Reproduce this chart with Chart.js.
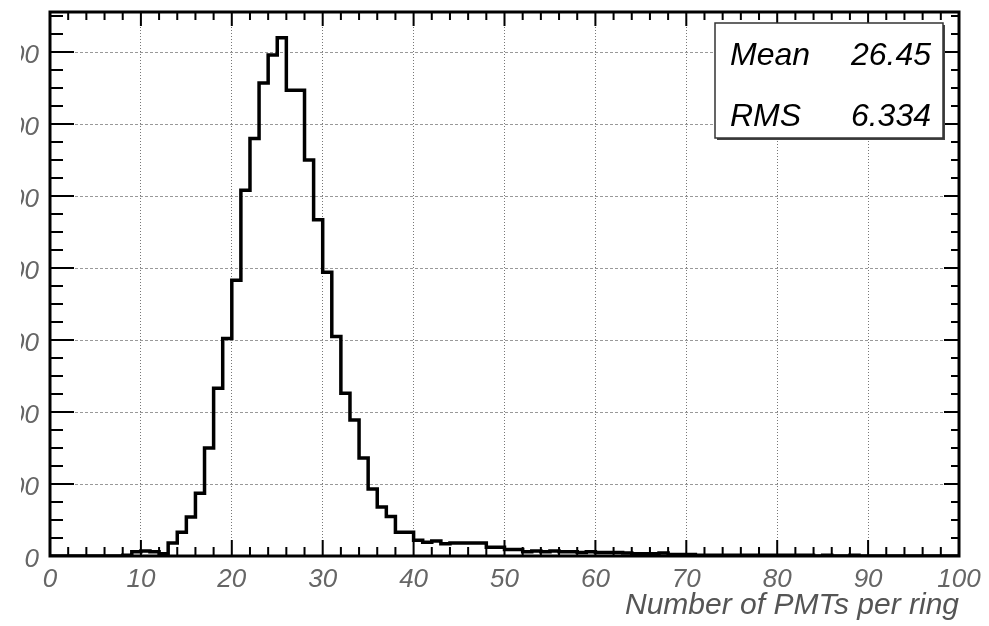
<!DOCTYPE html>
<html>
<head>
<meta charset="utf-8">
<script src="https://cdn.jsdelivr.net/npm/chart.js@4"></script>
<style>
  html, body { margin: 0; padding: 0; background: #fff; }
  body { width: 989px; height: 626px; position: relative; overflow: hidden; }
  #wrap { position: absolute; left: 21px; top: 0; width: 968px; height: 626px; }
</style>
</head>
<body>
<div id="wrap"><canvas id="histo"></canvas></div>
<script>
// bin lower edges (width 1) and entries per bin
const bin_edges = Array.from({length: 100}, (_, i) => i);
const counts = [
    0, 0, 0, 0, 0, 0, 0, 0, 1, 6,
    7, 6, 3, 18, 33, 54, 87, 150, 233, 302,
    383, 508, 580, 657, 696, 720, 647, 647, 550, 467,
    394, 305, 226, 189, 136, 93, 68, 55, 33, 33,
    22, 19, 21, 17, 18, 18, 18, 18, 12, 12,
    9, 9, 6, 7, 6, 7, 6, 6, 5, 6,
    5, 5, 5, 4, 3, 3, 3, 4, 2, 2,
    2, 1, 1, 1, 1, 1, 1, 1, 1, 1,
    1, 1, 1, 1, 0, 1, 0, 0, 1, 0,
    0, 0, 0, 0, 0, 0, 0, 0, 0, 0
];
const x_ticks = [0, 10, 20, 30, 40, 50, 60, 70, 80, 90, 100];
const y_ticks = [0, 100, 200, 300, 400, 500, 600, 700];
const stat_names = ["Mean", "RMS"];
const stat_values = ["26.45", "6.334"];

const FONT = "'Liberation Sans', Arial, sans-serif";

// histogram outline: one point per bin edge, last point closes the last bin
let points = bin_edges.map((e, i) => ({x: e, y: counts[i]}));
points.push({x: 100, y: 0});

// frame + ROOT style tick marks (major and minor, on all four sides)
const frameTicks = {
    id: 'frameTicks',
    afterDatasetsDraw(chart) {
        const {ctx, chartArea: a, scales: {x, y}} = chart;
        ctx.save();
        ctx.strokeStyle = '#000';
        ctx.lineWidth = 2;
        ctx.beginPath();
        for (let v = 0; v <= 100; v += 2) {
            const px = x.getPixelForValue(v);
            const major = v % 10 === 0;
            ctx.moveTo(px, a.bottom);
            ctx.lineTo(px, a.bottom - (major ? 16 : 9));
            ctx.moveTo(px, a.top);
            ctx.lineTo(px, a.top + (major ? 14 : 8));
        }
        for (let v = 0; v <= y.max; v += 25) {
            const py = y.getPixelForValue(v);
            const major = v % 100 === 0;
            ctx.moveTo(a.left, py);
            ctx.lineTo(a.left + (major ? 24 : 13), py);
            ctx.moveTo(a.right, py);
            ctx.lineTo(a.right - (major ? 15 : 8), py);
        }
        ctx.stroke();
        ctx.lineWidth = 3;
        ctx.strokeRect(a.left, a.top, a.right - a.left, a.bottom - a.top);
        ctx.restore();
    },
    afterDraw(chart) {
        const {ctx, chartArea: a} = chart;
        const w = 228, h = 115;
        const bx = a.right - 16 - w, by = a.top + 11;
        ctx.save();
        ctx.fillStyle = '#444';
        ctx.fillRect(bx + 2, by + 2, w, h);
        ctx.fillStyle = '#fff';
        ctx.fillRect(bx, by, w, h);
        ctx.strokeStyle = '#333';
        ctx.lineWidth = 1.5;
        ctx.strokeRect(bx, by, w, h);
        ctx.fillStyle = '#000';
        ctx.font = 'italic 32px ' + FONT;
        ctx.textBaseline = 'alphabetic';
        stat_names.forEach((n, i) => {
            const ty = by + 42 + i * 61;
            ctx.textAlign = 'left';
            ctx.fillText(n, bx + 15, ty);
            ctx.textAlign = 'right';
            ctx.fillText(stat_values[i], bx + w - 12, ty);
        });
        ctx.restore();
    }
};

document.addEventListener("DOMContentLoaded", function() {
    const ctx = document.getElementById('histo');

    new Chart(ctx, {
        type: 'line',
        plugins: [frameTicks],
        data: {
            datasets: [{
                label: 'PMTs per ring',
                data: points,
                stepped: 'before',
                borderColor: '#000',
                borderWidth: 3.5,
                pointRadius: 0,
                fill: false
            }]
        },
        options: {
            responsive: true,
            maintainAspectRatio: false,
            animation: false,
            layout: {
                padding: {left: 0, right: 30, top: 12, bottom: 0}
            },
            plugins: {
                legend: {display: false},
                tooltip: {enabled: false}
            },
            scales: {
                x: {
                    type: 'linear',
                    min: 0,
                    max: 100,
                    afterBuildTicks: function(axis) {
                        axis.ticks = x_ticks.map(v => ({value: v}));
                    },
                    afterFit: function(axis) {
                        axis.height = 70;
                        axis.paddingLeft = 0;
                        axis.paddingRight = 0;
                    },
                    border: {display: false, dash: [1, 2]},
                    grid: {
                        drawTicks: false,
                        color: '#777',
                        lineWidth: 1
                    },
                    ticks: {
                        padding: 8,
                        maxRotation: 0,
                        autoSkip: false,
                        color: '#666',
                        font: {family: FONT, size: 26, style: 'italic'}
                    },
                    title: {
                        display: true,
                        text: 'Number of PMTs per ring',
                        align: 'end',
                        color: '#555',
                        padding: {top: 0, bottom: 2},
                        font: {family: FONT, size: 30, style: 'italic'}
                    }
                },
                y: {
                    type: 'linear',
                    min: 0,
                    max: 755.6,
                    afterBuildTicks: function(axis) {
                        axis.ticks = y_ticks.map(v => ({value: v}));
                    },
                    afterFit: function(axis) {
                        axis.width = 29;
                        axis.paddingTop = 0;
                        axis.paddingBottom = 0;
                    },
                    border: {display: false, dash: [3, 2]},
                    grid: {
                        drawTicks: false,
                        color: '#999',
                        lineWidth: 1
                    },
                    ticks: {
                        padding: 11,
                        labelOffset: 4,
                        autoSkip: false,
                        color: '#666',
                        font: {family: FONT, size: 26, style: 'italic'}
                    }
                }
            }
        }
    });
});
</script>
</body>
